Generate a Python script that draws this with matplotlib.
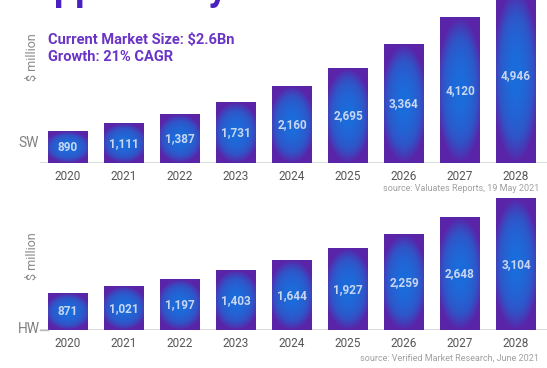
#!/usr/bin/env python3
"""SW / HW market size bars, 2020-2028, with gradient-filled bars."""
import numpy as np
import matplotlib
matplotlib.use("Agg")
import matplotlib.pyplot as plt
from matplotlib.colors import LinearSegmentedColormap

plt.rcParams["font.family"] = ["Roboto", "DejaVu Sans"]

years = ["2020", "2021", "2022", "2023", "2024", "2025", "2026", "2027", "2028"]
sw_values = [890, 1111, 1387, 1731, 2160, 2695, 3364, 4120, 4946]
hw_values = [871, 1021, 1197, 1403, 1644, 1927, 2259, 2648, 3104]

W, H = 547, 368
PURPLE = "#5a24a8"
BLUE = "#1b6ddc"
cmap = LinearSegmentedColormap.from_list("bar", [BLUE, "#2f55c8", PURPLE])


def gradient():
    u = np.linspace(-1, 1, 60)
    v = np.linspace(-1, 1, 120)
    U, V = np.meshgrid(u, v)
    t = np.sqrt(U ** 2 * 0.7 + V ** 2)
    return np.clip(t, 0, 1) ** 2.0


def px_axes(fig, left, top, right, bottom):
    # pixel box (from top-left) -> figure fraction
    return fig.add_axes([left / W, 1 - bottom / H, (right - left) / W, (bottom - top) / H])


def draw_panel(ax, values, ymax):
    x = np.arange(len(years))
    bars = ax.bar(x, values, width=40 / 56, color="none", zorder=2)
    g = gradient()
    for b, val in zip(bars, values):
        x0, w, h = b.get_x(), b.get_width(), b.get_height()
        ax.imshow(g, cmap=cmap, extent=[x0, x0 + w, 0, h], aspect="auto",
                  origin="lower", zorder=2, interpolation="bilinear")
        ax.text(x0 + w / 2, h / 2, f"{val:,}", ha="center", va="center",
                color="#c9d6f2", fontsize=8.5, fontweight="bold", zorder=3)
    ax.set_xlim(-0.5, -0.5 + 507 / 56)
    ax.set_ylim(0, ymax)
    ax.axhline(0, color="#d4d4d4", lw=1.2, zorder=1)
    for s in ax.spines.values():
        s.set_visible(False)
    ax.set_yticks([])
    ax.set_xticks(x)
    ax.set_xticklabels(years, fontsize=8.5, color="#555555")
    ax.tick_params(axis="x", length=0, pad=5)


fig = plt.figure(figsize=(W / 100, H / 100), dpi=100)

ax1 = px_axes(fig, 40, 0, 547, 163)
draw_panel(ax1, sw_values, 163 / 0.0352)
ax2 = px_axes(fig, 40, 190, 547, 330)
draw_panel(ax2, hw_values, 140 / 0.0423)

# cut-off headline at top
fig.text(28 / W, 1.0, "Opportunity", fontsize=27, fontweight="bold",
         color="#4a20c0", va="baseline", ha="left")

fig.text(48 / W, 1 - 40 / H, "Current Market Size: $2.6Bn", fontsize=10.5,
         fontweight="bold", color="#6a35c6", va="center")
fig.text(48 / W, 1 - 57 / H, "Growth: 21% CAGR", fontsize=10.5,
         fontweight="bold", color="#6a35c6", va="center")

fig.text(32 / W, 1 - 57 / H, "$ million", rotation=90, fontsize=9,
         color="#888888", ha="center", va="center")
fig.text(32 / W, 1 - 256 / H, "$ million", rotation=90, fontsize=9,
         color="#888888", ha="center", va="center")

fig.text(29 / W, 1 - 143 / H, "SW", fontsize=10, color="#808080", ha="center", va="center")
fig.text(29 / W, 1 - 329 / H, "HW", fontsize=10, color="#808080", ha="center", va="center")
fig.lines.append(plt.Line2D([40 / W, 48 / W], [1 - 330 / H] * 2, color="#bbbbbb",
                            lw=1, transform=fig.transFigure))

fig.text(539 / W, 1 - 188 / H, "source: Valuates Reports, 19 May 2021", fontsize=6.5,
         color="#a0a0a0", ha="right", va="center")
fig.text(539 / W, 1 - 358 / H, "source: Verified Market Research, June 2021", fontsize=6.5,
         color="#a0a0a0", ha="right", va="center")

fig.savefig("out.png", dpi=100)
